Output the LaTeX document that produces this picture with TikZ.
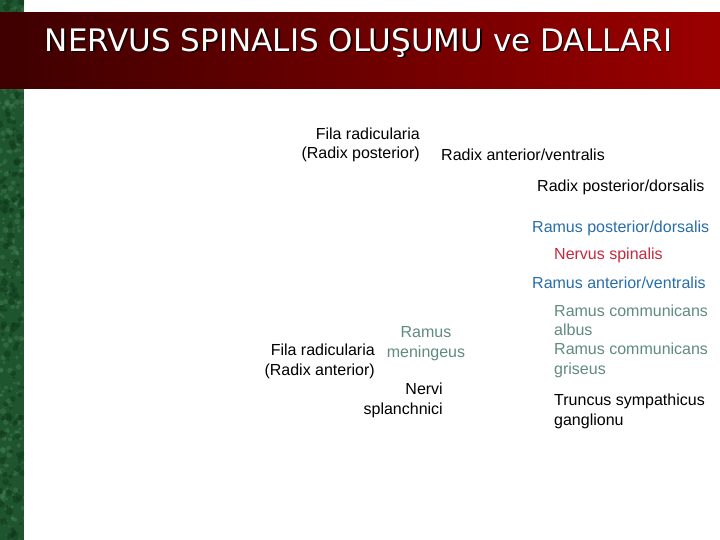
\documentclass[tikz,border=0pt]{standalone}
\usepackage{fontspec}
\setmainfont{Liberation Sans}
\newfontfamily\titlefont{DejaVu Sans}
\definecolor{barL}{RGB}{62,0,0}
\definecolor{barR}{RGB}{155,0,0}
\definecolor{marble}{RGB}{30,84,46}
\definecolor{marbleL}{RGB}{70,130,85}
\definecolor{marbleD}{RGB}{15,55,28}
\definecolor{lblue}{RGB}{40,110,170}
\definecolor{lred}{RGB}{200,40,60}
\definecolor{lgreen}{RGB}{95,140,125}
\begin{document}
\begin{tikzpicture}[x=1pt,y=-1pt,
  lbl/.style={inner sep=0pt,font=\fontsize{16}{19.5}\selectfont},
  lleft/.style={lbl,anchor=west,align=left},
  lright/.style={lbl,anchor=east,align=right},
  lcenter/.style={lbl,align=center}]
\useasboundingbox (0,0) rectangle (720,540);
\fill[white] (0,0) rectangle (720,540);
% marble strip
\fill[marble] (0,0) rectangle (24,540);
\pgfmathsetseed{7}
\begin{scope}
\clip (0,0) rectangle (24,540);
\foreach \i in {1,...,260}{
  \pgfmathsetmacro{\xx}{rnd*24}
  \pgfmathsetmacro{\yy}{rnd*540}
  \pgfmathsetmacro{\rr}{0.8+rnd*2.2}
  \fill[marbleL,opacity=0.4] (\xx,\yy) circle (\rr);
}
\foreach \i in {1,...,160}{
  \pgfmathsetmacro{\xx}{rnd*24}
  \pgfmathsetmacro{\yy}{rnd*540}
  \pgfmathsetmacro{\rr}{1+rnd*3}
  \fill[marbleD,opacity=0.5] (\xx,\yy) circle (\rr);
}
\end{scope}
% title bar
\shade[left color=barL,right color=barR] (0,13) rectangle (720,89);
\node[text=black!70!barL,font=\titlefont\fontsize{31}{34}\selectfont,inner sep=0pt] at (360,44) {NERVUS SPINALIS OLUŞUMU ve DALLARI};
\node (title) [text=white,font=\titlefont\fontsize{31}{34}\selectfont,inner sep=0pt] at (358.5,42.5) {NERVUS SPINALIS OLUŞUMU ve DALLARI};
% labels
\node (filapost) [lright] at (420,145) {Fila radicularia\\(Radix posterior)};
\node (radant) [lleft] at (441,155) {Radix anterior/ventralis};
\node (radpost) [lleft] at (537,187) {Radix posterior/dorsalis};
\node (rampost) [lleft,text=lblue] at (532,228) {Ramus posterior/dorsalis};
\node (nervus) [lleft,text=lred] at (554,255) {Nervus spinalis};
\node (ramant) [lleft,text=lblue] at (532,283) {Ramus anterior/ventralis};
\node (albus) [lleft,text=lgreen] at (554,320.5) {Ramus communicans\\albus};
\node (griseus) [lleft,text=lgreen] at (554,360.5) {Ramus communicans\\griseus};
\node (truncus) [lleft] at (554,411.5) {Truncus sympathicus\\ganglionu};
\node (mening) [lcenter,text=lgreen] at (426,343.5) {Ramus\\meningeus};
\node (filaant) [lright] at (375,361.5) {Fila radicularia\\(Radix anterior)};
\node (splanch) [lright] at (443,400.5) {Nervi\\splanchnici};
\end{tikzpicture}
\end{document}
